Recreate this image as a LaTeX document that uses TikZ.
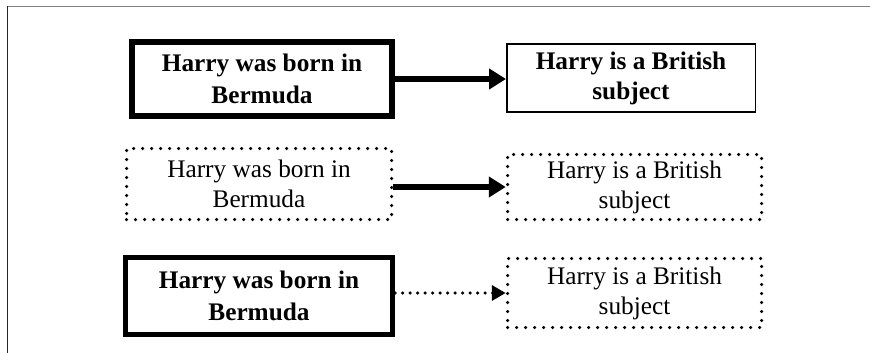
\documentclass[tikz,border=0pt]{standalone}
\usepackage{fontspec}
\setmainfont{Liberation Serif}
\usetikzlibrary{arrows.meta}
\begin{document}
\begin{tikzpicture}[x=1pt,y=-1pt,
  txt/.style={align=center,inner sep=0pt,font=\fontsize{25.3}{30}\selectfont},
  thickbox/.style={txt,draw,line width=6pt,font=\fontsize{25.3}{32}\selectfont\bfseries},
  thinbox/.style={txt,draw,line width=1.5pt,font=\fontsize{25.3}{30}\selectfont\bfseries},
  dotbox/.style={txt,draw,line width=3.5pt,line cap=round,dash pattern=on 0pt off 9pt},
  solidarrow/.style={line width=6.5pt,-{Triangle[length=17pt,width=20pt]}},
  dotarrow/.style={line width=3.5pt,line cap=round,dash pattern=on 0pt off 7.5pt,-{Triangle[length=14pt,width=15pt]}}
]
\useasboundingbox (0,0) rectangle (870,353);
\draw[gray,line width=1.3pt] (7,6.5) -- (870,6.5);
\draw[black!85,line width=1pt] (7,6.5) -- (7,353);
% row 1
\node[thickbox,minimum width=260pt,minimum height=74pt] (a1) at (262,79) {Harry was born in\\Bermuda};
\node[thinbox,minimum width=248.5pt,minimum height=67.5pt] (b1) at (631,78) {Harry is a British\\subject};
\draw[solidarrow] (a1.east |- 0,79) -- (b1.west |- 0,79);
% row 2
\node[dotbox,minimum width=265pt,minimum height=71pt] (a2) at (259,184) {Harry was born in\\Bermuda};
\node[dotbox,minimum width=254pt,minimum height=65pt] (b2) at (634.5,187) {Harry is a British\\subject};
\draw[solidarrow] (a2.east |- 0,187) -- (b2.west);
% row 3
\node[thickbox,line width=5pt,minimum width=267pt,minimum height=77pt] (a3) at (259,296) {Harry was born in\\Bermuda};
\node[dotbox,minimum width=254pt,minimum height=69pt] (b3) at (634.5,293) {Harry is a British\\subject};
\draw[dotarrow] (a3.east |- 0,293) -- (b3.west);
\end{tikzpicture}
\end{document}
